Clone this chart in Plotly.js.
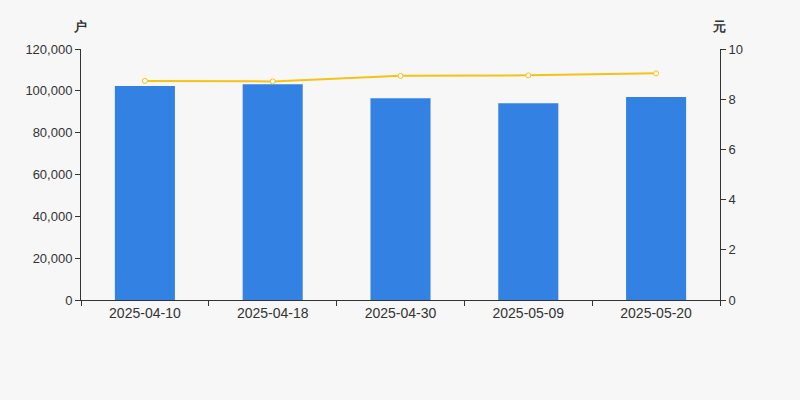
<!DOCTYPE html>
<html><head><meta charset="utf-8">
<script src="https://cdn.plot.ly/plotly-3.0.1.min.js"></script>
<style>html,body{margin:0;padding:0;background:#f7f7f7;}</style>
</head><body>
<div id="chart" style="width:800px;height:400px;"></div>
<script>
const categories = ["2025-04-10","2025-04-18","2025-04-30","2025-05-09","2025-05-20"];
const holders = [102300, 103100, 96500, 94100, 97000];
const avgValue = [8.73, 8.71, 8.93, 8.95, 9.03];

const traces = [
  {type:"bar", x:categories, y:holders, marker:{color:"#3382e3"}, width:0.47, hoverinfo:"y", yaxis:"y"},
  {type:"scatter", mode:"lines+markers", x:categories, y:avgValue, yaxis:"y2",
   line:{color:"#f5c314", width:2}, marker:{size:5, color:"#ffffff", line:{color:"#f5c314", width:1}}}
];
const font = {family:"'Liberation Sans', Arial, sans-serif", size:13, color:"#333"};
const layout = {
  width:800, height:400, paper_bgcolor:"#f7f7f7", plot_bgcolor:"#f7f7f7",
  margin:{l:81, r:80, t:49, b:100}, showlegend:false, font:font,
  xaxis:{type:"category", showline:true, linecolor:"#333", linewidth:1, ticks:"outside", tickson:"boundaries",
    ticklen:5, tickcolor:"#333", showgrid:false, tickfont:{size:14, color:"#333"}, zeroline:false},
  yaxis:{range:[0,120000], dtick:20000, tickformat:",d", showline:true, linecolor:"#333", ticks:"outside",
    ticklen:5, tickcolor:"#333", showgrid:false, zeroline:false, tickfont:{size:13, color:"#333"}},
  yaxis2:{range:[0,10], dtick:2, overlaying:"y", side:"right", showline:true, linecolor:"#333", ticks:"outside",
    ticklen:5, tickcolor:"#333", showgrid:false, zeroline:false, tickfont:{size:13, color:"#333"}},
  annotations:[
    {text:"<b>户</b>", xref:"paper", yref:"paper", x:-0.002, y:1.088, showarrow:false, font:{size:13, color:"#333"}, xanchor:"center", yanchor:"middle"},
    {text:"<b>元</b>", xref:"paper", yref:"paper", x:0.998, y:1.088, showarrow:false, font:{size:13, color:"#333"}, xanchor:"center", yanchor:"middle"}
  ]
};
Plotly.newPlot("chart", traces, layout, {displayModeBar:false});
</script>
</body></html>
